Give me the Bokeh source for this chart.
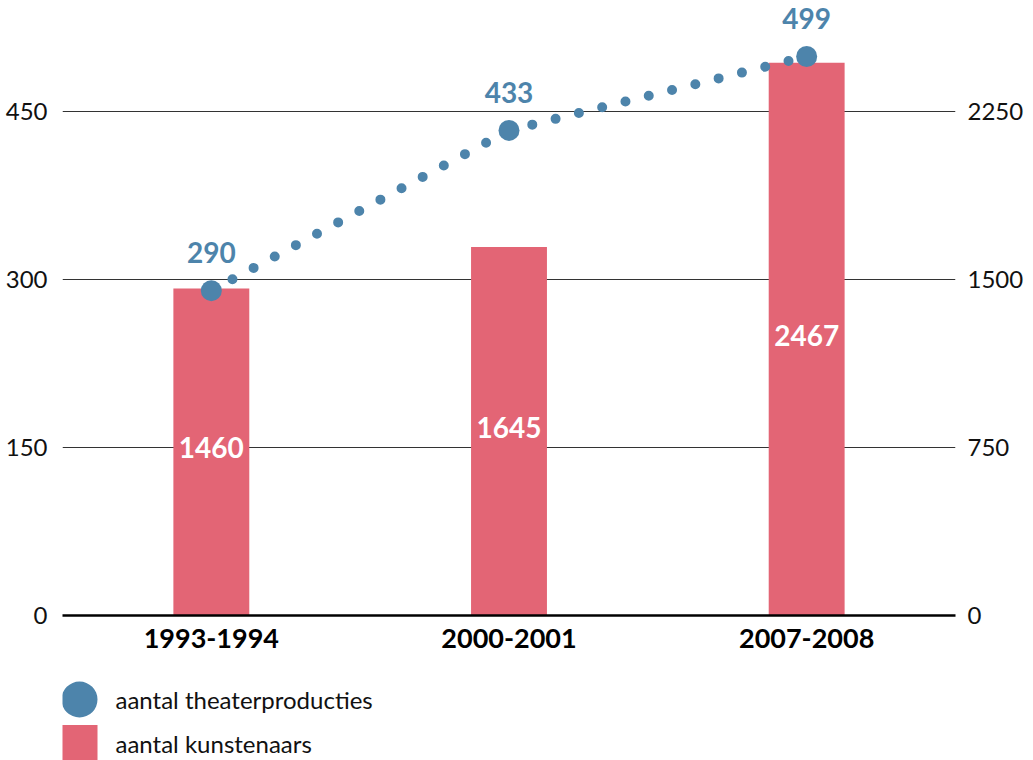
from bokeh.plotting import figure
from bokeh.models import Range1d, LinearAxis, FixedTicker, ColumnDataSource, FactorRange
from bokeh.layouts import column
from bokeh.core.properties import value
from bokeh.embed import file_html
from bokeh.resources import INLINE

periods = ["1993-1994", "2000-2001", "2007-2008"]
producties = [290, 433, 499]
kunstenaars = [1460, 1645, 2467]
left_ticks = [0, 150, 300, 450]
right_ticks = [0, 750, 1500, 2250]
legend_labels = ["aantal theaterproducties", "aantal kunstenaars"]

BLUE = "#4d84ab"
RED = "#e36575"
FONT = "Lato"

p = figure(x_range=FactorRange(*periods, range_padding=0), y_range=Range1d(0, 549),
           width=1033, height=665, output_backend="svg", toolbar_location=None,
           min_border_left=62, min_border_right=78, min_border_top=0, min_border_bottom=50)
p.extra_y_ranges = {"right": Range1d(0, 549 * 5)}
p.outline_line_color = None
p.background_fill_color = "white"
p.border_fill_color = "white"
p.xgrid.grid_line_color = None
p.ygrid.grid_line_color = "#333333"
p.ygrid.grid_line_width = 1.2

# left axis
p.yaxis.ticker = FixedTicker(ticks=left_ticks)
p.yaxis.axis_line_color = None
p.yaxis.major_tick_line_color = None
p.yaxis.minor_tick_line_color = None
p.yaxis.major_label_text_font = FONT
p.yaxis.major_label_text_font_size = "24px"
p.yaxis.major_label_text_color = "#111111"
p.yaxis.major_label_standoff = 9

# right axis
ra = LinearAxis(y_range_name="right", ticker=FixedTicker(ticks=right_ticks))
ra.axis_line_color = None
ra.major_tick_line_color = None
ra.minor_tick_line_color = None
ra.major_label_text_font = FONT
ra.major_label_text_font_size = "24px"
ra.major_label_text_color = "#111111"
ra.major_label_standoff = 6
p.add_layout(ra, "right")

# x axis
p.xaxis.axis_line_color = "black"
p.xaxis.axis_line_width = 2.5
p.xaxis.major_tick_line_color = None
p.xaxis.minor_tick_line_color = None
p.xaxis.major_label_text_font = FONT
p.xaxis.major_label_text_font_style = "bold"
p.xaxis.major_label_text_font_size = "27px"
p.xaxis.major_label_text_color = "black"
p.xaxis.major_label_standoff = 7

src = ColumnDataSource(dict(
    period=periods, prod=producties, kunst=kunstenaars,
    kunst_half=[k / 2 for k in kunstenaars],
    prod_lbl=[str(v) for v in producties], kunst_lbl=[str(v) for v in kunstenaars]))

p.vbar(x="period", top="kunst", width=0.255, source=src, y_range_name="right",
       fill_color=RED, line_color=None)

seg_x = [[periods[i], periods[i + 1]] for i in range(len(periods) - 1)]
seg_y = [[producties[i], producties[i + 1]] for i in range(len(producties) - 1)]
p.multi_line(xs=seg_x, ys=seg_y, line_color=BLUE, line_width=10,
             line_dash="0 24", line_cap="round")
p.scatter(x="period", y="prod", source=src, size=21, fill_color=BLUE, line_color=None)

p.text(x="period", y="prod", text="prod_lbl", source=src, y_offset=-38,
       text_align="center", text_baseline="middle", text_color=BLUE,
       text_font=value(FONT), text_font_style="bold", text_font_size="28px")
p.text(x="period", y="kunst_half", text="kunst_lbl", source=src, y_range_name="right",
       y_offset=-4,
       text_align="center", text_baseline="middle", text_color="white",
       text_font=value(FONT), text_font_style="bold", text_font_size="28px")

# legend as a separate small figure (frame aligned with the main frame: 62..955)
lg = figure(width=1033, height=95, x_range=Range1d(62, 955), y_range=Range1d(95, 0),
            output_backend="svg", toolbar_location=None,
            min_border_left=62, min_border_right=78,
            min_border_top=0, min_border_bottom=0)
lg.axis.visible = False
lg.grid.visible = False
lg.outline_line_color = None
lg.scatter(x=[79], y=[34], size=36, fill_color=BLUE, line_color=None)
lg.rect(x=[79], y=[77.5], width=36, height=36, fill_color=RED, line_color=None)
lg.text(x=[115, 115], y=[34, 77.5], text=legend_labels, text_baseline="middle",
        text_align="left", text_color="#111111", text_font=value(FONT),
        text_font_size="24px")

layout = column(p, lg, spacing=0)
open("out.html", "w").write(file_html(layout, INLINE))
